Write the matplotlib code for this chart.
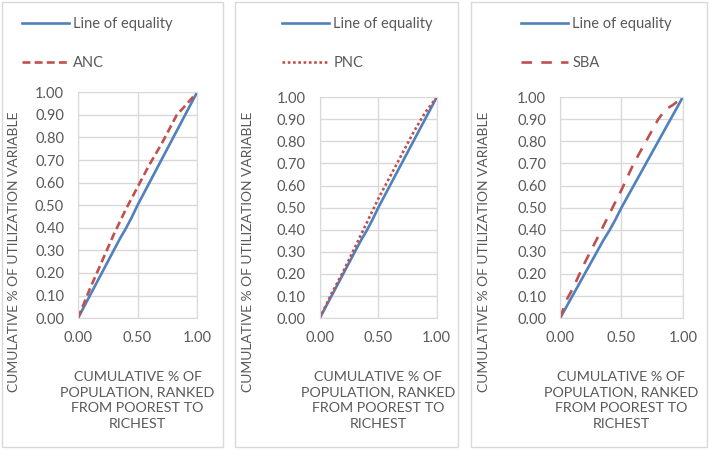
import matplotlib.pyplot as plt
from matplotlib.patches import Rectangle

plt.rcParams['font.family'] = ['Lato', 'DejaVu Sans']

# Line of equality (empirical, slightly jagged)
eq_x = [0.00, 0.05, 0.10, 0.15, 0.20, 0.25, 0.30, 0.35, 0.40, 0.45, 0.50,
        0.55, 0.60, 0.65, 0.70, 0.75, 0.80, 0.85, 0.90, 0.95, 1.00]
eq_y = [0.00, 0.05, 0.10, 0.15, 0.20, 0.25, 0.30, 0.35, 0.395, 0.445, 0.50,
        0.55, 0.60, 0.65, 0.70, 0.75, 0.80, 0.85, 0.90, 0.95, 1.00]

# Concentration curves
anc_x = [0.00, 0.10, 0.20, 0.30, 0.40, 0.50, 0.60, 0.70, 0.80, 0.83, 0.90, 1.00]
anc_y = [0.00, 0.13, 0.25, 0.37, 0.48, 0.58, 0.68, 0.77, 0.87, 0.90, 0.94, 1.00]

pnc_x = [0.00, 0.10, 0.20, 0.30, 0.40, 0.50, 0.60, 0.70, 0.80, 0.90, 1.00]
pnc_y = [0.00, 0.11, 0.21, 0.32, 0.43, 0.54, 0.64, 0.74, 0.84, 0.93, 1.00]

sba_x = [0.00, 0.05, 0.10, 0.20, 0.32, 0.40, 0.50, 0.60, 0.70, 0.80, 0.86, 0.92, 1.00]
sba_y = [0.00, 0.08, 0.13, 0.25, 0.38, 0.47, 0.58, 0.70, 0.80, 0.90, 0.945, 0.965, 1.00]

yticks = [i / 10 for i in range(11)]
xticks = [0.0, 0.5, 1.0]

panels = [
    ('ANC', anc_x, anc_y, (0, (3, 1.6)), [0.110, 0.293, 0.168, 0.502],
     (0.003, 0.007, 0.311, 0.989), 0.031, (-0.49, 0.295)),
    ('PNC', pnc_x, pnc_y, (0, (1, 1)), [0.451, 0.293, 0.165, 0.491],
     (0.332, 0.007, 0.314, 0.989), 0.398, (-0.56, 0.30)),
    ('SBA', sba_x, sba_y, (0, (4, 3.5)), [0.790, 0.293, 0.173, 0.491],
     (0.665, 0.007, 0.332, 0.989), 0.735, (-0.57, 0.30)),
]

blue = '#4f81bd'
red = '#c0504d'
grey_text = '#595959'
grid_c = '#d9d9d9'

fig = plt.figure(figsize=(7.09, 4.5), dpi=100)

for name, cx, cy, ls, pos, box, leg_x, ylab_xy in panels:
    fig.patches.append(Rectangle(box[:2], box[2], box[3], transform=fig.transFigure,
                                 fill=False, edgecolor=grid_c, linewidth=1))
    ax = fig.add_axes(pos)
    ax.plot(eq_x, eq_y, color=blue, linewidth=1.9, label='Line of equality')
    ax.plot(cx, cy, color=red, linewidth=1.9, linestyle=ls, label=name)
    ax.set_xlim(0, 1)
    ax.set_ylim(0, 1)
    ax.set_xticks(xticks)
    ax.set_yticks(yticks)
    ax.set_xticklabels([f'{v:.2f}' for v in xticks])
    ax.set_yticklabels([f'{v:.2f}' for v in yticks])
    ax.tick_params(length=0, labelsize=10.5, colors=grey_text)
    ax.tick_params(axis='y', pad=10)
    ax.tick_params(axis='x', pad=9)
    ax.grid(True, color=grid_c, linewidth=1)
    ax.set_axisbelow(True)
    for s in ax.spines.values():
        s.set_color(grid_c)
    ax.set_xlabel('CUMULATIVE % OF\nPOPULATION, RANKED\nFROM POOREST TO\nRICHEST',
                  fontsize=10.3, color=grey_text, labelpad=19, linespacing=1.35)
    ax.set_ylabel('CUMULATIVE % OF UTILIZATION VARIABLE', fontsize=10,
                  color=grey_text)
    ax.yaxis.set_label_coords(*ylab_xy)
    leg = ax.legend(loc='upper left', bbox_to_anchor=(leg_x, 0.962),
                    bbox_transform=fig.transFigure, frameon=False, fontsize=10.5,
                    handlelength=3.2, handletextpad=0.3, labelspacing=1.7,
                    borderaxespad=0, borderpad=0)
    for t in leg.get_texts():
        t.set_color(grey_text)

fig.savefig('out.png', dpi=100)
